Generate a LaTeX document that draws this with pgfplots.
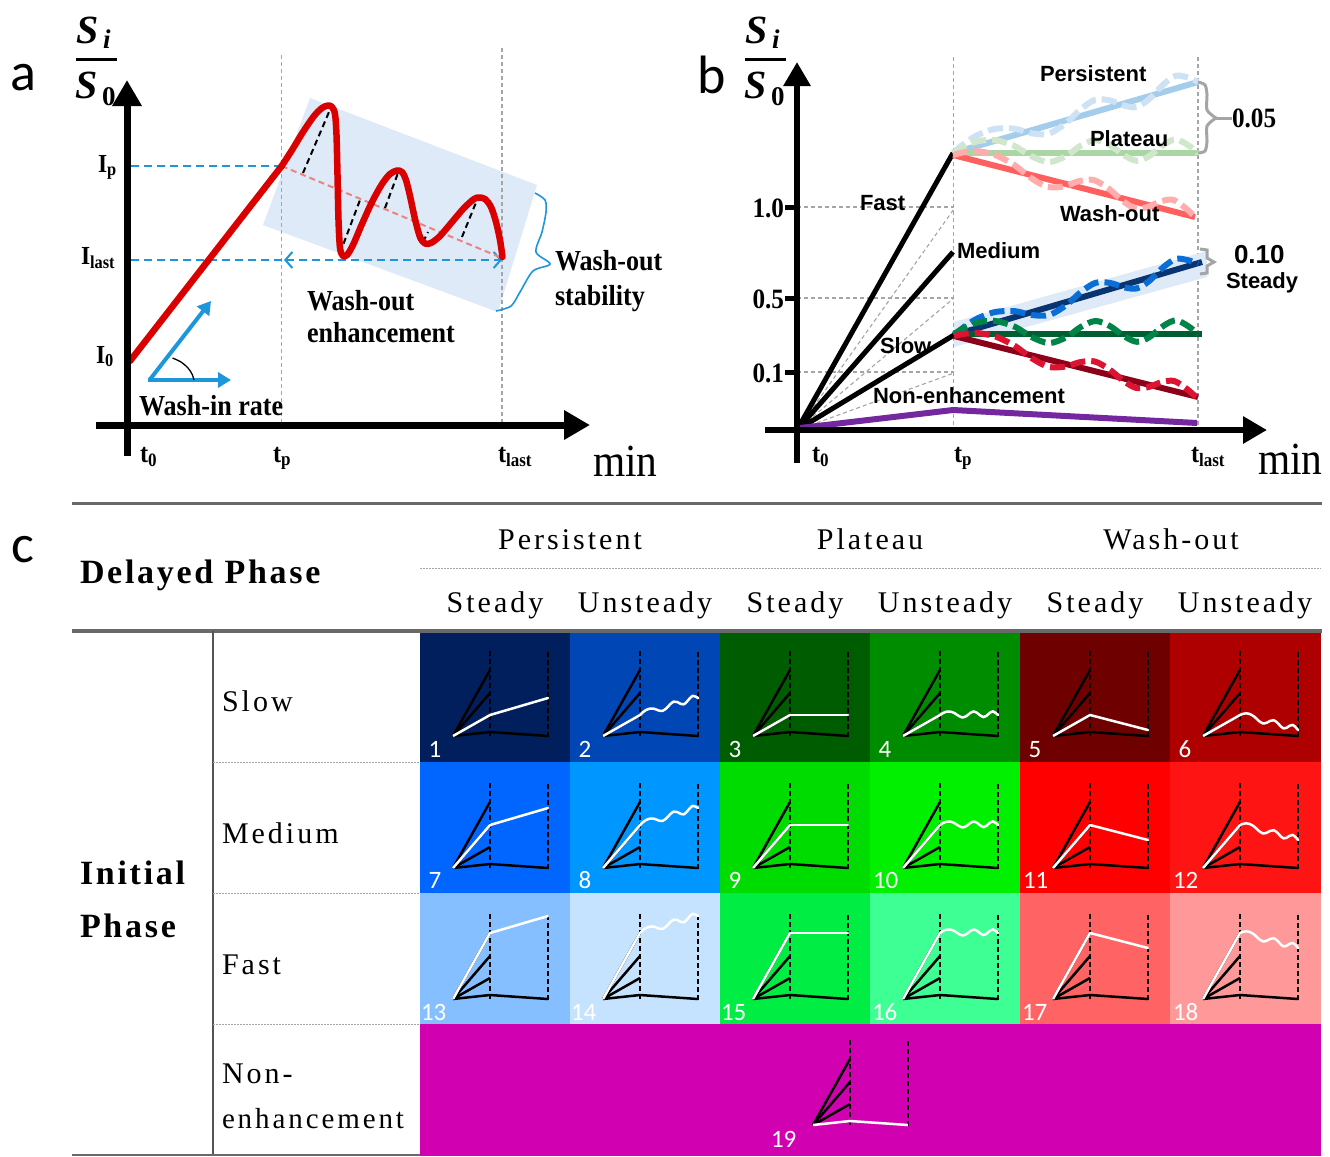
\documentclass[border=0pt]{standalone}
\usepackage{fontspec}
\setmainfont{Liberation Serif}
\newfontfamily\tabfont{Liberation Serif}[LetterSpace=10]
\newfontfamily\tabbold{Liberation Serif}[LetterSpace=8]
\newfontfamily\afont{Liberation Serif}[FakeStretch=0.9]
\newfontfamily\sansb{Liberation Sans}
\newfontfamily\calib{Carlito}
\usepackage{pgfplots}
\pgfplotsset{compat=1.18}
\usepackage{pgfplotstable}
\usetikzlibrary{arrows.meta}
\newcommand\fs[1]{\fontsize{#1pt}{#1pt}\selectfont}
\tikzset{lab/.style={inner sep=0pt, outer sep=0pt, anchor=base west}}

\definecolor{washblue}{RGB}{30,150,220}
\definecolor{rectblue}{RGB}{222,234,247}
\definecolor{redc}{RGB}{218,0,0}
\definecolor{pinkc}{RGB}{236,130,130}
\definecolor{gridg}{RGB}{165,165,165}
\definecolor{perL}{RGB}{163,205,234}
\definecolor{perD}{RGB}{205,226,244}
\definecolor{plaL}{RGB}{170,214,165}
\definecolor{plaD}{RGB}{208,231,203}
\definecolor{wasL}{RGB}{255,95,95}
\definecolor{wasD}{RGB}{255,172,172}
\definecolor{navyL}{RGB}{8,52,112}
\definecolor{blueD}{RGB}{10,110,215}
\definecolor{dgreenL}{RGB}{0,95,50}
\definecolor{greenD}{RGB}{0,132,72}
\definecolor{dredL}{RGB}{140,0,25}
\definecolor{redD}{RGB}{220,20,50}
\definecolor{purp}{RGB}{115,40,160}
\definecolor{bandc}{RGB}{222,234,248}
\definecolor{rulec}{RGB}{105,105,105}
\definecolor{c1}{RGB}{0,31,92}
\definecolor{c2}{RGB}{0,70,180}
\definecolor{c3}{RGB}{0,92,0}
\definecolor{c4}{RGB}{0,140,0}
\definecolor{c5}{RGB}{110,0,0}
\definecolor{c6}{RGB}{175,0,0}
\definecolor{c7}{RGB}{0,102,255}
\definecolor{c8}{RGB}{0,150,255}
\definecolor{c9}{RGB}{0,220,0}
\definecolor{c10}{RGB}{0,240,0}
\definecolor{c11}{RGB}{255,0,0}
\definecolor{c12}{RGB}{255,20,20}
\definecolor{c13}{RGB}{133,191,255}
\definecolor{c14}{RGB}{197,226,255}
\definecolor{c15}{RGB}{0,238,68}
\definecolor{c16}{RGB}{61,255,148}
\definecolor{c17}{RGB}{255,99,99}
\definecolor{c18}{RGB}{255,153,153}
\definecolor{c19}{RGB}{209,0,177}

% normalised wave shape (s along segment, d offset)
\pgfplotstableread{
s d
0.00 0
0.05 -0.55
0.10 -0.9
0.17 -1
0.25 -0.55
0.32 0.25
0.39 0.7
0.46 0.25
0.52 -0.55
0.58 -1
0.64 -0.6
0.70 0.2
0.75 0.6
0.80 0.25
0.86 -0.65
0.91 -1.05
0.96 -0.6
1.00 0
}\wave
% mini chart pieces (relative to cell top-left)
\pgfplotstableread{
x y
0 0
151 0
151 132
0 132
}\trect
\pgfplotstableread{
x y
70 21
70 107
}\ttp
\pgfplotstableread{
x y
128 22
128 107
}\ttl
\pgfplotstableread{
x y
33 106
70 40
}\tfast
\pgfplotstableread{
x y
33 106
70 63
}\tmed
\pgfplotstableread{
x y
33 106
70 85
}\tslow
\pgfplotstableread{
x y
33 106
70 102
128 106
}\tnon

% #1 cx, #2 cy, #3 row table, #4 tip y, #5 delayed dy, #6 wave amp, #7 colour
\newcommand\cellplot[7]{%
\addplot[draw=none, fill=#7] table[x expr={#1+\thisrow{x}}, y expr={#2+\thisrow{y}}] {\trect};
\addplot[black, line width=2pt, dash pattern=on 5pt off 3pt] table[x expr={#1+\thisrow{x}}, y expr={#2+\thisrow{y}}] {\ttp};
\addplot[black, line width=2pt, dash pattern=on 5pt off 3pt] table[x expr={#1+\thisrow{x}}, y expr={#2+\thisrow{y}}] {\ttl};
\addplot[black, line width=2.5pt] table[x expr={#1+\thisrow{x}}, y expr={#2+\thisrow{y}}] {\tfast};
\addplot[black, line width=2.5pt] table[x expr={#1+\thisrow{x}}, y expr={#2+\thisrow{y}}] {\tmed};
\addplot[black, line width=2.5pt] table[x expr={#1+\thisrow{x}}, y expr={#2+\thisrow{y}}] {\tslow};
\addplot[black, line width=2.5pt] table[x expr={#1+\thisrow{x}}, y expr={#2+\thisrow{y}}] {\tnon};
\addplot[white, line width=2.5pt] table[x expr={#1+\thisrow{x}}, y expr={#2+\thisrow{y}}] {#3};
\addplot[white, line width=2.5pt, smooth, line cap=round] table[x expr={#1+70+58*\thisrow{s}}, y expr={#2+#4+(#5)*\thisrow{s}+(#6)*\thisrow{d}}] {\wave};
}

\begin{document}
\begin{tikzpicture}
\begin{axis}[scale only axis, width=1330pt, height=1156pt,
  xmin=0, xmax=1330, ymin=0, ymax=1156, y dir=reverse,
  hide axis, clip=false]
\addplot[fill=white, draw=none] coordinates {(0,0) (1330,0) (1330,1156) (0,1156)};

%%%%%%%%%%%%%%%% Panel a
\addplot[fill=rectblue, draw=none] coordinates {(310,98) (537,185) (498,312) (263,225)};
\addplot[gridg, line width=1.2pt, dash pattern=on 4pt off 3pt] coordinates {(281.5,55) (281.5,425)};
\addplot[gridg, line width=1.2pt, dash pattern=on 4pt off 3pt] coordinates {(502,48) (502,425)};
\addplot[washblue, line width=2.5pt, dash pattern=on 8pt off 5pt] coordinates {(131,166) (281,166)};
\addplot[washblue, line width=2.5pt, dash pattern=on 8pt off 5pt] coordinates {(131,260) (284,260)};
\addplot[washblue, line width=2.5pt, dash pattern=on 8pt off 5pt,
  arrows={Straight Barb[length=7pt,width=16pt,line width=2pt]-Straight Barb[length=7pt,width=16pt,line width=2pt]}] coordinates {(284,260) (502,260)};
\addplot[pinkc, line width=2pt, dash pattern=on 6pt off 4pt] coordinates {(281.7,166) (502,258)};
\addplot[black, line width=2pt, dash pattern=on 6pt off 4pt] coordinates {(303,173) (329,112)};
\addplot[black, line width=2pt, dash pattern=on 6pt off 4pt] coordinates {(340,253) (360,200)};
\addplot[black, line width=2pt, dash pattern=on 6pt off 4pt] coordinates {(385,208) (398,173)};
\addplot[black, line width=2pt, dash pattern=on 6pt off 4pt] coordinates {(423,242) (428,232)};
\addplot[black, line width=2pt, dash pattern=on 6pt off 4pt] coordinates {(462,237) (477,200)};
% red enhancement curve
\addplot[redc, line width=6.5pt, line cap=round] coordinates {(130,361) (281.7,166)};
\addplot[redc, line width=6.5pt, smooth, line cap=round, line join=round] coordinates {
(281.7,166) (292,150) (303,132) (314,116) (322,108) (328,105.5) (332,107) (335,114)
(336.5,135) (337.5,175) (338.5,220) (340,248) (343,256) (347,255) (353,245) (362,224)
(372,202) (382,184) (390,174) (397,170.5) (402,172) (406,180) (410,196) (415,219)
(420,237) (425,243.5) (431,243) (440,236) (452,222) (464,208) (474,199) (479,197.5)
(485,199) (491,207) (496,222) (500,240) (502.5,257)};
% brace
\addplot[washblue, line width=1.6pt, smooth] coordinates {(535,193) (545,200) (546,212) (542,232) (536,252) (550,264) (533,271) (520,292) (511,306) (496,311)};
% wash-in arrows
\addplot[washblue, line width=4pt, arrows={-Triangle[length=13pt,width=15pt]}] coordinates {(149.5,380) (211,301)};
\addplot[washblue, line width=4pt, arrows={-Triangle[length=13pt,width=15pt]}] coordinates {(147.5,380) (231,380)};
\addplot[black, line width=1.3pt, smooth] coordinates {(172.5,358) (181,362) (188,368) (192,374) (194,380)};
% axes
\addplot[black, line width=7pt, arrows={-Triangle[length=26pt,width=28pt]}] coordinates {(127,456) (127,80)};
\addplot[black, line width=7pt, arrows={-Triangle[length=26pt,width=28pt]}] coordinates {(96,425) (590,425)};
% texts a
\node[lab] at (10,90) {\calib\fs{54}a};
\node[lab] at (76,43) {\bfseries\itshape\fs{40}S};
\node[lab] at (103,48) {\bfseries\itshape\fs{27}i};
\addplot[black, line width=3pt] coordinates {(76,59) (117,59)};
\node[lab] at (75,98) {\bfseries\itshape\fs{40}S};
\node[lab] at (102,105) {\bfseries\fs{27}0};
\node[lab] at (98,172) {\afont\bfseries\fs{26}I\textsubscript{p}};
\node[lab] at (81,264) {\afont\bfseries\fs{26}I\textsubscript{last}};
\node[lab] at (96,363) {\afont\bfseries\fs{26}I\textsubscript{0}};
\node[lab] at (140,462) {\afont\bfseries\fs{27}t\textsubscript{0}};
\node[lab] at (273,462) {\afont\bfseries\fs{27}t\textsubscript{p}};
\node[lab] at (498,462) {\afont\bfseries\fs{27}t\textsubscript{last}};
\node[lab] at (593,476) {\afont\fs{46}min};
\node[lab] at (307,310) {\afont\bfseries\fs{29}Wash-out};
\node[lab] at (307,342) {\afont\bfseries\fs{29}enhancement};
\node[lab] at (555,270) {\afont\bfseries\fs{29}Wash-out};
\node[lab] at (555,305) {\afont\bfseries\fs{29}stability};
\node[lab] at (139,415) {\afont\bfseries\fs{29}Wash-in rate};

%%%%%%%%%%%%%%%% Panel b
\addplot[gridg, line width=1.2pt, dash pattern=on 4pt off 3pt] coordinates {(797,207) (954,207)};
\addplot[gridg, line width=1.2pt, dash pattern=on 4pt off 3pt] coordinates {(797,298) (954,298)};
\addplot[gridg, line width=1.2pt, dash pattern=on 4pt off 3pt] coordinates {(797,372) (954,372)};
\addplot[gridg, line width=1.1pt, dash pattern=on 4pt off 3pt] coordinates {(797,430) (954,209)};
\addplot[gridg, line width=1.1pt, dash pattern=on 4pt off 3pt] coordinates {(797,430) (954,298)};
\addplot[gridg, line width=1.1pt, dash pattern=on 4pt off 3pt] coordinates {(797,430) (954,373)};
\addplot[gridg, line width=1.2pt, dash pattern=on 4pt off 3pt] coordinates {(953.5,57) (953.5,430)};
\addplot[gridg, line width=1.2pt, dash pattern=on 4pt off 3pt] coordinates {(1198,57) (1198,430)};
\addplot[fill=bandc, draw=none] coordinates {(954,322) (1207,251) (1207,277) (954,347)};
% black wash-in lines
\addplot[black, line width=5pt] coordinates {(797,430) (953,153)};
\addplot[black, line width=5pt] coordinates {(797,430) (953,252)};
\addplot[black, line width=5pt] coordinates {(797,430) (954,335)};
\addplot[purp, line width=6pt] coordinates {(800,428) (953,410) (1197,423)};
% upper group lines
\addplot[perL, line width=6pt] coordinates {(953,153) (1198,82)};
\addplot[plaL, line width=6pt] coordinates {(953,153) (1198,153)};
\addplot[wasL, line width=6pt] coordinates {(953,155) (1195,217)};
\addplot[perD, line width=6pt, smooth, dash pattern=on 15pt off 6pt] table[x expr={953+245*\thisrow{s}}, y expr={153-71*\thisrow{s}+12*\thisrow{d}}] {\wave};
\addplot[plaD, line width=6pt, smooth, dash pattern=on 15pt off 6pt] table[x expr={953+245*\thisrow{s}}, y expr={153+13*\thisrow{d}}] {\wave};
\addplot[wasD, line width=6pt, smooth, dash pattern=on 15pt off 6pt] table[x expr={953+242*\thisrow{s}}, y expr={155+62*\thisrow{s}+11*\thisrow{d}}] {\wave};
% lower group lines
\addplot[navyL, line width=6pt] coordinates {(954,335) (1202,262)};
\addplot[dgreenL, line width=6pt] coordinates {(954,334) (1202,334)};
\addplot[dredL, line width=6pt] coordinates {(954,336) (1198,397)};
\addplot[blueD, line width=6pt, smooth, dash pattern=on 15pt off 6pt] table[x expr={954+244*\thisrow{s}}, y expr={335-71*\thisrow{s}+11*\thisrow{d}}] {\wave};
\addplot[greenD, line width=6pt, smooth, dash pattern=on 15pt off 6pt] table[x expr={954+244*\thisrow{s}}, y expr={334+13*\thisrow{d}}] {\wave};
\addplot[redD, line width=6pt, smooth, dash pattern=on 15pt off 6pt] table[x expr={954+242*\thisrow{s}}, y expr={336+61*\thisrow{s}+10*\thisrow{d}}] {\wave};
% braces
\addplot[gridg, line width=3pt, smooth] coordinates {(1198,82) (1205,85) (1207,95) (1207,110) (1216,118)};
\addplot[gridg, line width=3pt, smooth] coordinates {(1216,118) (1207,126) (1207,141) (1205,151) (1198,153)};
\addplot[gridg, line width=3pt] coordinates {(1216,118) (1232,118)};
\addplot[gridg, line width=3pt] coordinates {(1200,249) (1207,250) (1207,258) (1214,262) (1207,266) (1207,273) (1200,274)};
% axes
\addplot[black, line width=6pt, arrows={-Triangle[length=24pt,width=26pt]}] coordinates {(797,463) (797,62)};
\addplot[black, line width=6pt, arrows={-Triangle[length=24pt,width=26pt]}] coordinates {(765,430) (1267,430)};
\addplot[black, line width=5pt] coordinates {(785,207) (797,207)};
\addplot[black, line width=5pt] coordinates {(785,298) (797,298)};
\addplot[black, line width=5pt] coordinates {(785,372) (797,372)};
% texts b
\node[lab] at (697,93) {\calib\fs{54}b};
\node[lab] at (745,43) {\bfseries\itshape\fs{40}S};
\node[lab] at (772,48) {\bfseries\itshape\fs{27}i};
\addplot[black, line width=3pt] coordinates {(745,59) (786,59)};
\node[lab] at (744,98) {\bfseries\itshape\fs{40}S};
\node[lab] at (771,105) {\bfseries\fs{27}0};
\node[lab, anchor=base east] at (784,217) {\afont\bfseries\fs{28}1.0};
\node[lab, anchor=base east] at (784,308) {\afont\bfseries\fs{28}0.5};
\node[lab, anchor=base east] at (784,382) {\afont\bfseries\fs{28}0.1};
\node[lab] at (812,462) {\afont\bfseries\fs{27}t\textsubscript{0}};
\node[lab] at (954,462) {\afont\bfseries\fs{27}t\textsubscript{p}};
\node[lab] at (1191,462) {\afont\bfseries\fs{27}t\textsubscript{last}};
\node[lab] at (1258,474) {\afont\fs{46}min};
\node[lab] at (1040,81) {\sansb\bfseries\fs{22}Persistent};
\node[lab] at (1090,146) {\sansb\bfseries\fs{22}Plateau};
\node[lab] at (1060,221) {\sansb\bfseries\fs{22}Wash-out};
\node[lab] at (860,210) {\sansb\bfseries\fs{22}Fast};
\node[lab] at (957,258) {\sansb\bfseries\fs{22}Medium};
\node[lab] at (880,353) {\sansb\bfseries\fs{22}Slow};
\node[lab] at (873,403) {\sansb\bfseries\fs{22}Non-enhancement};
\node[lab] at (1226,288) {\sansb\bfseries\fs{22}Steady};
\node[lab] at (1234,263) {\sansb\bfseries\fs{26}0.10};
\node[lab] at (1232,127) {\afont\bfseries\fs{28}0.05};

%%%%%%%%%%%%%%%% Panel c
\addplot[rulec, line width=3pt] coordinates {(72,503) (1322,503)};
\addplot[gridg, line width=1pt, dash pattern=on 1.5pt off 1.5pt] coordinates {(420,568) (1321,568)};
\cellplot{420}{630}{\tslow}{85}{-17}{0}{c1}
\cellplot{570}{630}{\tslow}{85}{-17}{3.5}{c2}
\cellplot{720}{630}{\tslow}{85}{0}{0}{c3}
\cellplot{870}{630}{\tslow}{85}{0}{3.5}{c4}
\cellplot{1020}{630}{\tslow}{85}{15}{0}{c5}
\cellplot{1170}{630}{\tslow}{85}{15}{3.5}{c6}
\cellplot{420}{762}{\tmed}{63}{-17}{0}{c7}
\cellplot{570}{762}{\tmed}{63}{-17}{3.5}{c8}
\cellplot{720}{762}{\tmed}{63}{0}{0}{c9}
\cellplot{870}{762}{\tmed}{63}{0}{3.5}{c10}
\cellplot{1020}{762}{\tmed}{63}{15}{0}{c11}
\cellplot{1170}{762}{\tmed}{63}{15}{3.5}{c12}
\cellplot{420}{893}{\tfast}{40}{-17}{0}{c13}
\cellplot{570}{893}{\tfast}{40}{-17}{3.5}{c14}
\cellplot{720}{893}{\tfast}{40}{0}{0}{c15}
\cellplot{870}{893}{\tfast}{40}{0}{3.5}{c16}
\cellplot{1020}{893}{\tfast}{40}{15}{0}{c17}
\cellplot{1170}{893}{\tfast}{40}{15}{3.5}{c18}
% non-enhancement cell
\addplot[draw=none, fill=c19] coordinates {(420,1024) (1321,1024) (1321,1156) (420,1156)};
\addplot[black, line width=2pt, dash pattern=on 5pt off 3pt] table[x expr={780+\thisrow{x}}, y expr={1019+\thisrow{y}}] {\ttp};
\addplot[black, line width=2pt, dash pattern=on 5pt off 3pt] table[x expr={780+\thisrow{x}}, y expr={1019+\thisrow{y}}] {\ttl};
\addplot[black, line width=2.5pt] table[x expr={780+\thisrow{x}}, y expr={1019+\thisrow{y}}] {\tfast};
\addplot[black, line width=2.5pt] table[x expr={780+\thisrow{x}}, y expr={1019+\thisrow{y}}] {\tmed};
\addplot[black, line width=2.5pt] table[x expr={780+\thisrow{x}}, y expr={1019+\thisrow{y}}] {\tslow};
\addplot[white, line width=2.5pt] table[x expr={780+\thisrow{x}}, y expr={1019+\thisrow{y}}] {\tnon};
% rules
\addplot[rulec, line width=3.5pt] coordinates {(72,631) (1322,631)};
\addplot[rulec!80!black, line width=1.5pt] coordinates {(213,631) (213,1156)};
\addplot[gridg, line width=1pt, dash pattern=on 1.5pt off 1.5pt] coordinates {(213,762) (420,762)};
\addplot[gridg, line width=1pt, dash pattern=on 1.5pt off 1.5pt] coordinates {(213,893) (420,893)};
\addplot[gridg, line width=1pt, dash pattern=on 1.5pt off 1.5pt] coordinates {(213,1024) (420,1024)};
\addplot[rulec, line width=2pt] coordinates {(72,1155) (420,1155)};
% cell numbers
\node[lab, anchor=base, white] at (435,757) {\calib\fs{25}1};
\node[lab, anchor=base, white] at (585,757) {\calib\fs{25}2};
\node[lab, anchor=base, white] at (735,757) {\calib\fs{25}3};
\node[lab, anchor=base, white] at (885,757) {\calib\fs{25}4};
\node[lab, anchor=base, white] at (1035,757) {\calib\fs{25}5};
\node[lab, anchor=base, white] at (1185,757) {\calib\fs{25}6};
\node[lab, anchor=base, white] at (435,888) {\calib\fs{25}7};
\node[lab, anchor=base, white] at (585,888) {\calib\fs{25}8};
\node[lab, anchor=base, white] at (735,888) {\calib\fs{25}9};
\node[lab, white] at (873,888) {\calib\fs{25}10};
\node[lab, white] at (1023,888) {\calib\fs{25}11};
\node[lab, white] at (1173,888) {\calib\fs{25}12};
\node[lab, white] at (421,1020) {\calib\fs{25}13};
\node[lab, white] at (571,1020) {\calib\fs{25}14};
\node[lab, white] at (721,1020) {\calib\fs{25}15};
\node[lab, white] at (872,1020) {\calib\fs{25}16};
\node[lab, white] at (1022,1020) {\calib\fs{25}17};
\node[lab, white] at (1173,1020) {\calib\fs{25}18};
\node[lab, white] at (771,1147) {\calib\fs{25}19};
% table texts
\node[lab] at (12,562) {\calib\fs{54}c};
\node[lab] at (80,583) {\tabbold\bfseries\fs{34}Delayed Phase};
\node[lab] at (80,884) {\tabbold\bfseries\fs{34}Initial};
\node[lab] at (80,937) {\tabbold\bfseries\fs{34}Phase};
\node[lab, anchor=base] at (570,549) {\tabfont\fs{30}Persistent};
\node[lab, anchor=base] at (870,549) {\tabfont\fs{30}Plateau};
\node[lab, anchor=base] at (1171,549) {\tabfont\fs{30}Wash-out};
\node[lab, anchor=base] at (495,612) {\tabfont\fs{30}Steady};
\node[lab, anchor=base] at (645,612) {\tabfont\fs{30}Unsteady};
\node[lab, anchor=base] at (795,612) {\tabfont\fs{30}Steady};
\node[lab, anchor=base] at (945,612) {\tabfont\fs{30}Unsteady};
\node[lab, anchor=base] at (1095,612) {\tabfont\fs{30}Steady};
\node[lab, anchor=base] at (1245,612) {\tabfont\fs{30}Unsteady};
\node[lab] at (222,711) {\tabfont\fs{30}Slow};
\node[lab] at (222,843) {\tabfont\fs{30}Medium};
\node[lab] at (222,974) {\tabfont\fs{30}Fast};
\node[lab] at (222,1083) {\tabfont\fs{30}Non-};
\node[lab] at (222,1128) {\tabfont\fs{29}enhancement};
\end{axis}
\end{tikzpicture}
\end{document}
